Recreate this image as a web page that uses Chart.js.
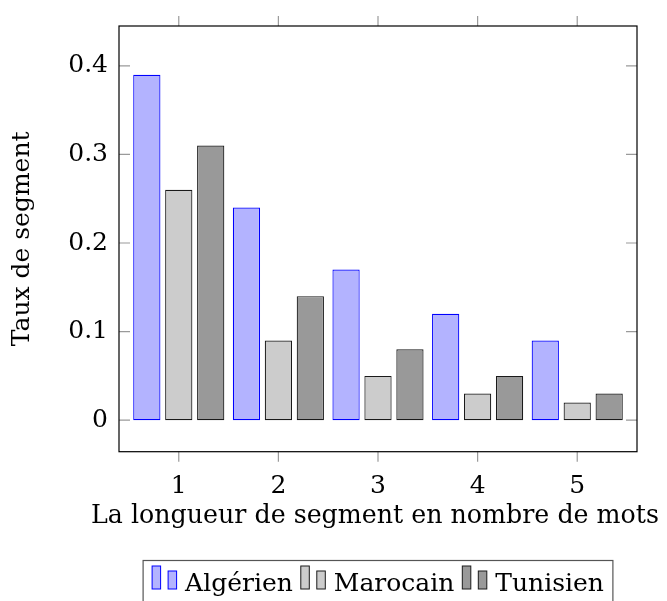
<!DOCTYPE html>
<html>
<head>
<meta charset="utf-8">
<script src="https://cdn.jsdelivr.net/npm/chart.js@4.4.0/dist/chart.umd.min.js"></script>
<style>
  body { margin: 0; background: #fff; }
</style>
</head>
<body>
<canvas id="chart" width="667" height="601"></canvas>
<script>
// chart values
const categories = [1, 2, 3, 4, 5];
const xTickLabels = ['1', '2', '3', '4', '5'];
const yTicks = [0, 0.1, 0.2, 0.3, 0.4];
const yTickLabels = ['0', '0.1', '0.2', '0.3', '0.4'];
const seriesNames = ['Algérien', 'Marocain', 'Tunisien'];
const algerien = [0.39, 0.24, 0.17, 0.12, 0.09];
const marocain = [0.26, 0.09, 0.05, 0.03, 0.02];
const tunisien = [0.31, 0.14, 0.08, 0.05, 0.03];
const xTitle = 'La longueur de segment en nombre de mots';
const yTitle = 'Taux de segment';

const FONT = 'DejaVu Serif';
const FONT_SIZE = 25;

function toPoints(values) {
    return categories.map((c, i) => ({ x: c, y: values[i] }));
}

// frame, pgfplots-like ticks, x title (wider than the plot) and the boxed legend
const framePlugin = {
    id: 'framePlugin',
    afterDraw(chart) {
        const { ctx, chartArea: a, scales: { x, y } } = chart;
        ctx.save();

        ctx.strokeStyle = '#9a9a9a';
        ctx.lineWidth = 1.2;
        ctx.beginPath();
        categories.forEach(c => {
            const px = x.getPixelForValue(c);
            ctx.moveTo(px, a.top); ctx.lineTo(px, a.top - 10);
            ctx.moveTo(px, a.bottom); ctx.lineTo(px, a.bottom + 10);
        });
        yTicks.forEach(v => {
            const py = y.getPixelForValue(v);
            ctx.moveTo(a.left, py); ctx.lineTo(a.left + 11, py);
            ctx.moveTo(a.right, py); ctx.lineTo(a.right - 11, py);
        });
        ctx.stroke();

        ctx.strokeStyle = '#000';
        ctx.lineWidth = 1.2;
        ctx.strokeRect(a.left, a.top, a.right - a.left, a.bottom - a.top);

        // x axis title, centred under the plot
        ctx.fillStyle = '#000';
        ctx.font = '25.3px "' + FONT + '"';
        ctx.textAlign = 'center';
        ctx.textBaseline = 'alphabetic';
        ctx.fillText(xTitle, (a.left + a.right) / 2 - 3, 523);

        // legend
        ctx.font = FONT_SIZE + 'px "' + FONT + '"';
        ctx.textAlign = 'left';
        const items = chart.data.datasets.map(ds => ({ ds, w: ctx.measureText(ds.label).width }));
        const iconW = 26, iconGap = 7, itemGap = 8, padX = 9;
        let total = padX * 2 + itemGap * (items.length - 1);
        items.forEach(it => { total += iconW + iconGap + it.w; });
        const left = (a.left + a.right) / 2 - total / 2;
        const boxTop = 560.5;
        ctx.strokeStyle = '#555';
        ctx.lineWidth = 1.2;
        ctx.strokeRect(left, boxTop, total, 60);

        let cx = left + padX;
        const base = 590.5;
        items.forEach(it => {
            ctx.fillStyle = it.ds.backgroundColor;
            ctx.strokeStyle = it.ds.borderColor;
            ctx.lineWidth = 1;
            ctx.fillRect(cx, 566, 8.5, 23);
            ctx.strokeRect(cx, 566, 8.5, 23);
            ctx.fillRect(cx + 16, 571, 8.5, 18);
            ctx.strokeRect(cx + 16, 571, 8.5, 18);
            ctx.fillStyle = '#000';
            ctx.fillText(it.ds.label, cx + iconW + iconGap, base);
            cx += iconW + iconGap + it.w + itemGap;
        });

        ctx.restore();
    }
};

new Chart(document.getElementById('chart'), {
    type: 'bar',
    data: {
        datasets: [
            { label: seriesNames[0], data: toPoints(algerien), backgroundColor: '#b3b3ff', borderColor: '#0000ff' },
            { label: seriesNames[1], data: toPoints(marocain), backgroundColor: '#cccccc', borderColor: '#1a1a1a' },
            { label: seriesNames[2], data: toPoints(tunisien), backgroundColor: '#999999', borderColor: '#1a1a1a' }
        ]
    },
    options: {
        responsive: false,
        animation: false,
        layout: { padding: { top: 20.7, right: 30, left: 0, bottom: 0 } },
        datasets: {
            bar: { categoryPercentage: 0.962, barPercentage: 0.853, borderWidth: 1.2, borderSkipped: false }
        },
        plugins: { legend: { display: false }, tooltip: { enabled: false } },
        scales: {
            x: {
                type: 'linear',
                offset: false,
                min: 0.4,
                max: 5.6,
                afterBuildTicks: s => { s.ticks = categories.map(v => ({ value: v })); },
                afterFit: s => { s.height = 601 - 451.7; },
                grid: { display: false, drawTicks: false, offset: false },
                border: { display: false },
                ticks: {
                    padding: 20,
                    color: '#000',
                    font: { family: FONT, size: FONT_SIZE },
                    callback: (v, i) => xTickLabels[i]
                },
                title: { display: false }
            },
            y: {
                min: -0.0356,
                max: 0.445,
                afterBuildTicks: s => { s.ticks = yTicks.map(v => ({ value: v })); },
                afterFit: s => { s.width = 119; },
                grid: { display: false, drawTicks: false },
                border: { display: false },
                ticks: {
                    padding: 11,
                    color: '#000',
                    font: { family: FONT, size: FONT_SIZE },
                    callback: (v, i) => yTickLabels[i]
                },
                title: {
                    display: true,
                    text: yTitle,
                    color: '#000',
                    font: { family: FONT, size: FONT_SIZE },
                    padding: { top: 7, bottom: 0 }
                }
            }
        }
    },
    plugins: [framePlugin]
});
</script>
</body>
</html>
